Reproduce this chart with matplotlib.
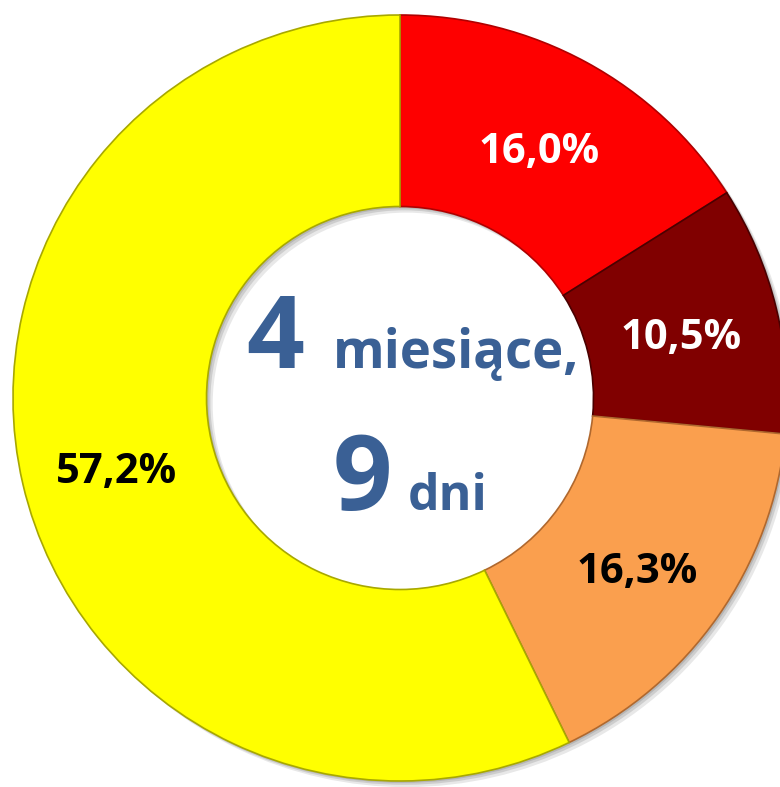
import matplotlib
matplotlib.use("Agg")
import matplotlib.pyplot as plt

# Data
categories = ["A", "B", "C", "D"]
values = [16.0, 10.5, 16.3, 57.2]
labels = ["16,0%", "10,5%", "16,3%", "57,2%"]
colors = ["#FE0000", "#800000", "#FA9F4E", "#FFFF00"]
edge_colors = ["#B00000", "#4A0000", "#B0682E", "#A8A800"]
label_colors = ["white", "white", "black", "black"]
center_big = ["4", "9"]
center_small = ["miesiące,", "dni"]

W, H = 780, 787
fig = plt.figure(figsize=(W / 100, H / 100), dpi=100)
ax = fig.add_axes([0, 0, 1, 1])
ax.axis("off")

FONT = ["Open Sans", "DejaVu Sans"]

# soft shadow ring
for k, (off, a) in enumerate([(0.016, 0.18), (0.010, 0.25), (0.005, 0.3)]):
    ax.pie(values, startangle=90, counterclock=False, radius=1.0,
           center=(off, -off), colors=["#808080"] * len(values),
           wedgeprops=dict(width=0.5, linewidth=0, alpha=a))

wedges, _ = ax.pie(values, startangle=90, counterclock=False, radius=1.0,
                   colors=colors,
                   wedgeprops=dict(width=0.5, linewidth=1.2))
for w, ec in zip(wedges, edge_colors):
    w.set_edgecolor(ec)

ax.set_aspect("auto")
ax.set_xlim(-400 / 387, 380 / 387)
ax.set_ylim(-389 / 383, 398 / 383)

def fx(x):
    return x / W

def fy(y):
    return 1 - y / H

# slice labels (pixel positions)
label_pos = [(539, 152), (681, 339), (637, 572), (116, 472)]
for (x, y), t, c in zip(label_pos, labels, label_colors):
    fig.text(fx(x), fy(y), t, ha="center", va="center", fontsize=30,
             fontweight="bold", color=c, family=FONT)

blue = "#3A6095"
fig.text(fx(275), fy(368), center_big[0], ha="center", va="baseline",
         fontsize=73, fontweight="bold", color=blue, family=FONT)
fig.text(fx(333), fy(368), center_small[0], ha="left", va="baseline",
         fontsize=38, fontweight="bold", color=blue, family=FONT)
fig.text(fx(362), fy(510), center_big[1], ha="center", va="baseline",
         fontsize=75, fontweight="bold", color=blue, family=FONT)
fig.text(fx(408), fy(510), center_small[1], ha="left", va="baseline",
         fontsize=36, fontweight="bold", color=blue, family=FONT)

fig.savefig("out.png", dpi=100, facecolor="white")
